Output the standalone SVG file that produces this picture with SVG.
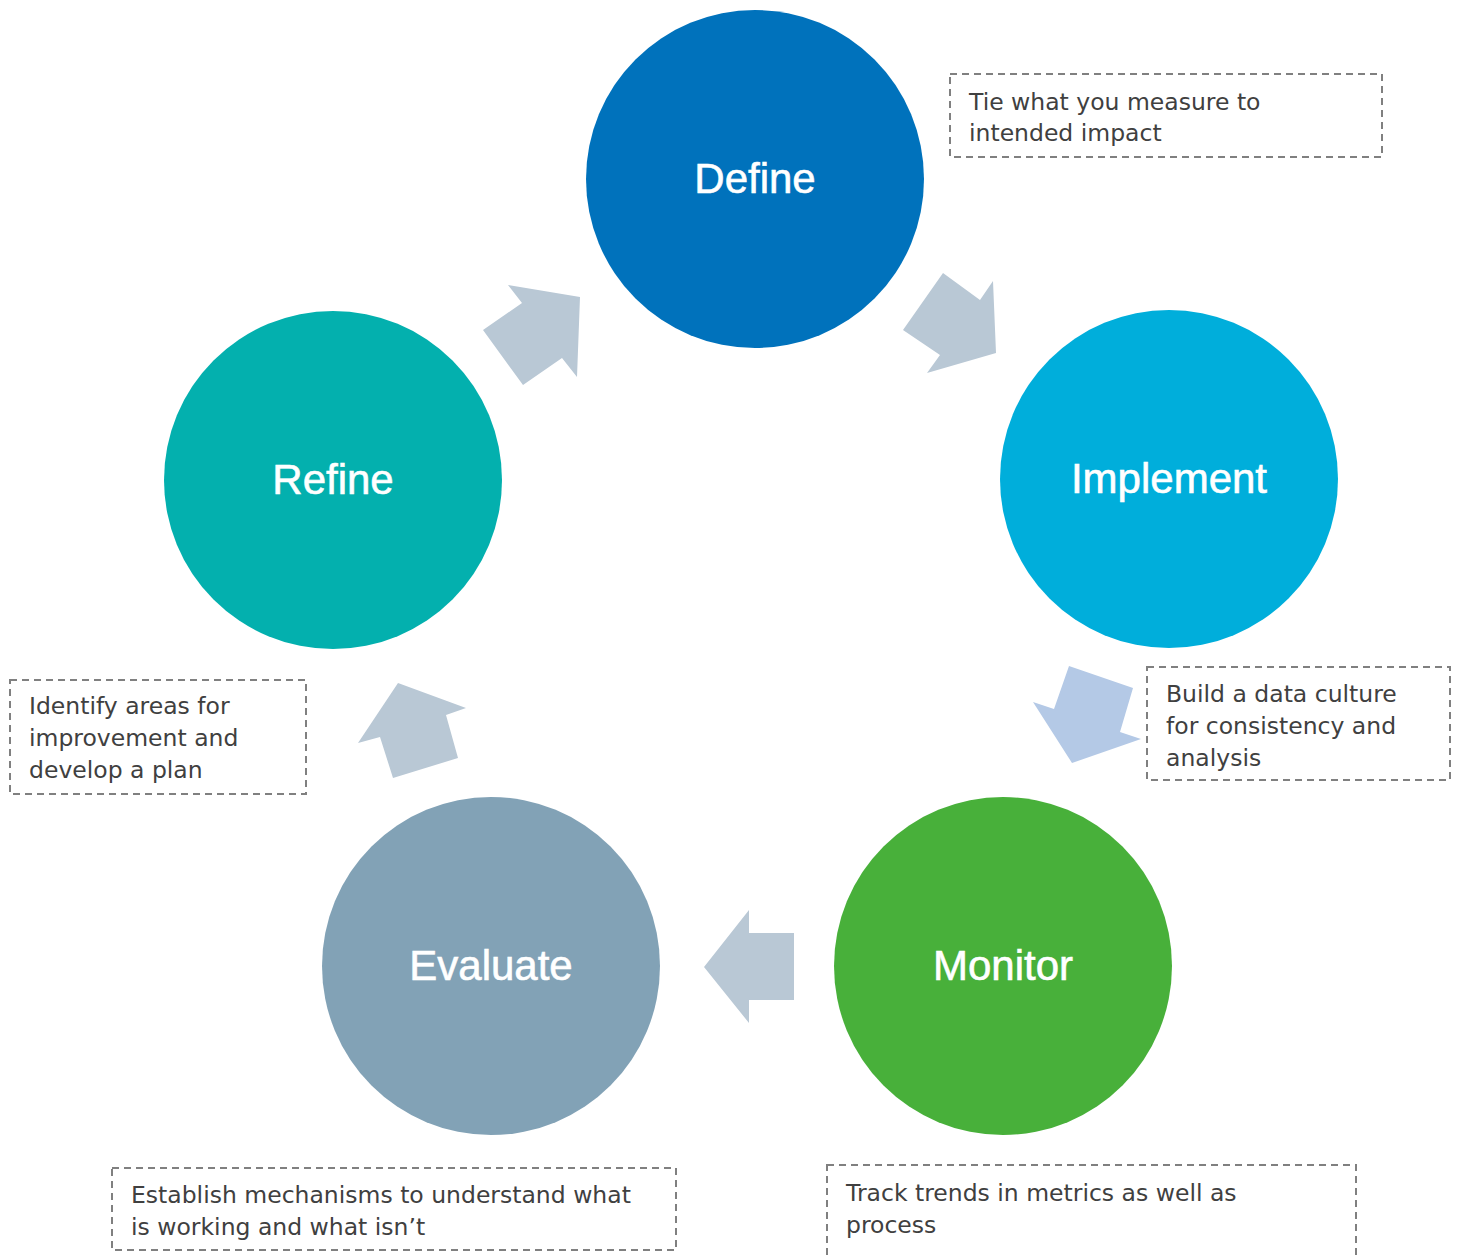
<svg xmlns="http://www.w3.org/2000/svg" width="1462" height="1257" viewBox="0 0 1462 1257">
  <style>
    .stage { stroke: none; }
    .label { font-family: "Liberation Sans", Arial, sans-serif; font-size: 42px; fill: #ffffff; stroke: #ffffff; stroke-width: 0.6; text-anchor: middle; dominant-baseline: central; }
    .note { fill: none; stroke: #808080; stroke-width: 2; stroke-dasharray: 7 5; }
    .note-text { font-family: "DejaVu Sans", "Liberation Sans", Arial, sans-serif; font-size: 23.5px; fill: #404040; }
    .flow { fill: #B9C8D5; }
    .flow-blue { fill: #B4C9E6; }
  </style>
  <rect width="1462" height="1257" fill="#ffffff"/>

  <!-- cycle arrows between stages -->
  <g id="connectors">
    <polygon class="flow" points="903,330 943,273 980,300 993,281 996,353 927,373 940,355"/>
    <polygon class="flow-blue" points="1069,666 1133,688 1120,732 1141,739 1072,763 1033,702 1054,709"/>
    <polygon class="flow" points="704,967 749,910 749,933 794,933 794,1000 749,1000 749,1023"/>
    <polygon class="flow" points="398,683 466,708 446,715 458,758 393,778 380,737 358,743"/>
    <polygon class="flow" points="483,330 522,303 508,285 580,297 577,377 562,358 523,385"/>
  </g>

  <g id="define">
    <circle class="stage" cx="755" cy="179" r="169" fill="#0072BC"/>
    <text class="label" x="755" y="178">Define</text>
  </g>
  <g id="implement">
    <circle class="stage" cx="1169" cy="479" r="169" fill="#00AEDB"/>
    <text class="label" x="1169" y="478">Implement</text>
  </g>
  <g id="monitor">
    <circle class="stage" cx="1003" cy="966" r="169" fill="#48B03A"/>
    <text class="label" x="1003" y="965">Monitor</text>
  </g>
  <g id="evaluate">
    <circle class="stage" cx="491" cy="966" r="169" fill="#82A2B6"/>
    <text class="label" x="491" y="965">Evaluate</text>
  </g>
  <g id="refine">
    <circle class="stage" cx="333" cy="480" r="169" fill="#03B0AE"/>
    <text class="label" x="333" y="479">Refine</text>
  </g>

  <!-- stage notes -->
  <g id="note-define">
    <rect class="note" x="950" y="74" width="432" height="83"/>
    <text class="note-text" x="969" y="110">Tie what you measure to</text>
    <text class="note-text" x="969" y="141">intended impact</text>
  </g>
  <g id="note-implement">
    <rect class="note" x="1147" y="667" width="303" height="113"/>
    <text class="note-text" x="1166" y="702">Build a data culture</text>
    <text class="note-text" x="1166" y="734">for consistency and</text>
    <text class="note-text" x="1166" y="766">analysis</text>
  </g>
  <g id="note-monitor">
    <rect class="note" x="827" y="1165" width="529" height="110"/>
    <text class="note-text" x="846" y="1201">Track trends in metrics as well as</text>
    <text class="note-text" x="846" y="1233">process</text>
  </g>
  <g id="note-evaluate">
    <rect class="note" x="112" y="1168" width="564" height="82"/>
    <text class="note-text" x="131" y="1203">Establish mechanisms to understand what</text>
    <text class="note-text" x="131" y="1235">is working and what isn’t</text>
  </g>
  <g id="note-refine">
    <rect class="note" x="10" y="680" width="296" height="114"/>
    <text class="note-text" x="29" y="714">Identify areas for</text>
    <text class="note-text" x="29" y="746">improvement and</text>
    <text class="note-text" x="29" y="778">develop a plan</text>
  </g>
</svg>
